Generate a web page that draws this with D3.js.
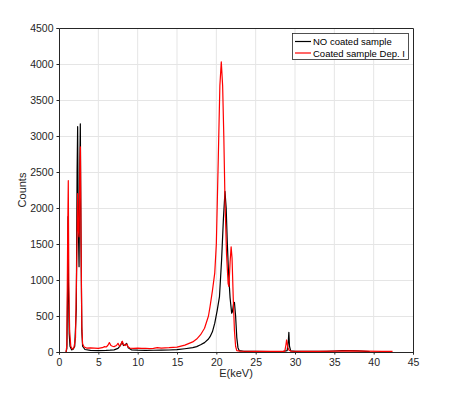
<!DOCTYPE html>
<html><head><meta charset="utf-8">
<script src="https://cdn.jsdelivr.net/npm/d3@7"></script>
<style>body{margin:0;background:#fff}svg{display:block}</style>
</head><body><svg id="c" width="457" height="396"></svg>
<script>
const seriesNames = ["NO coated sample", "Coated sample Dep. I"];
const seriesColors = ["#000000", "#ff0000"];
const xTicks = [0,5,10,15,20,25,30,35,40,45];
const yTicks = [0,500,1000,1500,2000,2500,3000,3500,4000,4500];
const noCoated = [
[0.9,0],[1.0,50],[1.1,900],[1.15,1880],[1.2,900],[1.3,250],[1.4,80],[1.6,30],[1.8,40],[2.0,80],[2.2,600],[2.3,2500],[2.37,3130],[2.45,1800],[2.55,1185],[2.65,2600],[2.71,3170],[2.8,1500],[2.9,300],[3.0,80],[3.3,35],[4,22],[5,20],[6,22],[6.5,25],[7,30],[7.5,50],[7.8,90],[8.0,140],[8.2,90],[8.4,100],[8.6,120],[8.8,60],[9.2,30],[10,25],[11,22],[12,24],[13,26],[14,28],[15,32],[16,45],[17,60],[17.5,75],[18,100],[18.5,130],[19,180],[19.2,213],[19.5,280],[19.8,400],[20.1,570],[20.4,770],[20.67,1280],[20.9,1850],[21.1,2230],[21.25,2000],[21.4,1500],[21.55,1100],[21.75,750],[21.95,540],[22.05,560],[22.2,680],[22.3,690],[22.45,500],[22.6,200],[22.75,60],[22.9,20],[23.5,10],[25,8],[27,6],[28.5,8],[29.0,20],[29.15,150],[29.22,273],[29.3,80],[29.45,15],[30,8],[32,8],[34,10],[35,14],[36,18],[37,20],[38,16],[39,10],[39.5,5]
];
const coated = [
[0.9,0],[1.0,100],[1.1,1600],[1.18,2380],[1.25,1000],[1.35,300],[1.5,80],[1.7,40],[1.9,60],[2.1,200],[2.25,1200],[2.37,2200],[2.45,1700],[2.55,1600],[2.65,2500],[2.72,2850],[2.8,1600],[2.9,350],[3.0,110],[3.2,70],[3.5,55],[4,58],[5,50],[5.5,60],[5.8,75],[6.0,70],[6.2,90],[6.4,130],[6.6,90],[6.8,80],[7.0,75],[7.3,90],[7.5,120],[7.7,80],[7.9,110],[8.05,150],[8.2,100],[8.4,90],[8.6,110],[8.8,70],[9.0,55],[9.5,50],[10,55],[10.5,50],[11,52],[11.5,48],[12,50],[12.5,60],[13,55],[14,60],[15,68],[16,95],[17,140],[17.5,180],[18,240],[18.5,330],[19,500],[19.2,630],[19.5,850],[19.8,1100],[20.0,1500],[20.25,2700],[20.45,3700],[20.63,4030],[20.8,3700],[20.95,3000],[21.1,2100],[21.3,1350],[21.5,950],[21.6,910],[21.75,1250],[21.88,1460],[22.0,1300],[22.15,750],[22.3,300],[22.45,80],[22.6,20],[23,12],[25,10],[27,8],[28.7,10],[28.85,100],[28.93,167],[29.0,120],[29.1,60],[29.25,25],[29.5,12],[31,10],[33,10],[35,12],[37,15],[39,12],[41,10],[42.4,8]
];

const svg = d3.select("#c");
const L=59,R=413,T=28,B=352;
const x = d3.scaleLinear().domain([0,45]).range([L,R]);
const y = d3.scaleLinear().domain([0,4500]).range([B,T]);
const axCol="#262626";
const font="Liberation Sans, Arial, Helvetica, sans-serif";

// grid
const g = svg.append("g");
g.selectAll(".gx").data(xTicks.slice(1,-1)).enter().append("line")
 .attr("x1",d=>x(d)).attr("x2",d=>x(d)).attr("y1",T).attr("y2",B)
 .attr("stroke","#e5e5e5").attr("stroke-width",1);
g.selectAll(".gy").data(yTicks.slice(1,-1)).enter().append("line")
 .attr("y1",d=>y(d)+0.5).attr("y2",d=>y(d)+0.5).attr("x1",L).attr("x2",R)
 .attr("stroke","#e5e5e5").attr("stroke-width",1);

// lines
const line = d3.line().x(d=>x(d[0])).y(d=>y(d[1]));
svg.append("clipPath").attr("id","cp").append("rect").attr("x",L).attr("y",T).attr("width",R-L).attr("height",B-T);
[noCoated, coated].forEach((s,i)=>{
  svg.append("path").datum(s).attr("d",line).attr("fill","none")
   .attr("stroke",seriesColors[i]).attr("stroke-width",1.2).attr("stroke-linejoin","round")
   .attr("clip-path","url(#cp)");
});

// axes
const xa = svg.append("g").attr("transform",`translate(0,${B})`)
 .call(d3.axisBottom(x).tickValues(xTicks).tickSize(2.5).tickPadding(4).tickFormat(d3.format("d")));
const ya = svg.append("g").attr("transform",`translate(${L},0)`)
 .call(d3.axisLeft(y).tickValues(yTicks).tickSize(2.5).tickPadding(3).tickFormat(d3.format("d")));
const xt = svg.append("g").attr("transform",`translate(0,${T})`)
 .call(d3.axisTop(x).tickValues([]).tickSizeOuter(0));
const yr = svg.append("g").attr("transform",`translate(${R},0)`)
 .call(d3.axisRight(y).tickValues([]).tickSizeOuter(0));
[xa,ya,xt,yr].forEach(a=>{
  a.selectAll("path").attr("stroke",axCol);
  a.selectAll("line").attr("stroke",axCol);
  a.selectAll("text").attr("fill",axCol).style("font-family",font).style("font-size","10.5px");
});

// labels
svg.append("text").attr("x",(L+R)/2).attr("y",377).attr("text-anchor","middle")
 .attr("fill",axCol).style("font-family",font).style("font-size","11px").text("E(keV)");
svg.append("text").attr("transform",`translate(26,${(T+B)/2}) rotate(-90)`).attr("text-anchor","middle")
 .attr("fill",axCol).style("font-family",font).style("font-size","11px").text("Counts");

// legend
const lg = svg.append("g");
lg.append("rect").attr("x",292.5).attr("y",33.5).attr("width",116).attr("height",26)
 .attr("fill","#fff").attr("stroke","#262626").attr("stroke-width",0.8);
seriesNames.forEach((n,i)=>{
  const yy = 41.5 + i*11.5;
  lg.append("line").attr("x1",295).attr("x2",311).attr("y1",yy).attr("y2",yy)
   .attr("stroke",seriesColors[i]).attr("stroke-width",1.2);
  lg.append("text").attr("x",313).attr("y",yy+3.5).attr("fill","#000")
   .style("font-family",font).style("font-size","9.5px").text(n);
});
</script></body></html>
